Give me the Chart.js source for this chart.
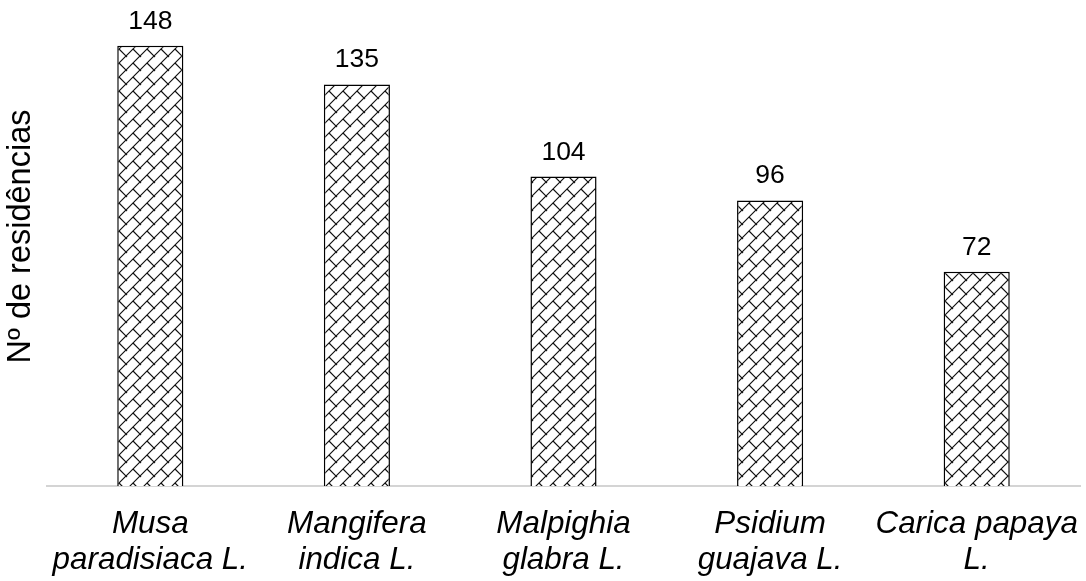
<!DOCTYPE html>
<html>
<head>
<meta charset="utf-8">
<script src="https://cdn.jsdelivr.net/npm/chart.js@4"></script>
<style>
html,body{margin:0;padding:0;background:#fff;}
#wrap{width:1086px;height:581px;}
</style>
</head>
<body>
<div id="wrap"><canvas id="c" width="1086" height="581"></canvas></div>
<script>
const categories = [
  ['Musa', 'paradisiaca L.'],
  ['Mangifera', 'indica L.'],
  ['Malpighia', 'glabra L.'],
  ['Psidium', 'guajava L.'],
  ['Carica papaya', 'L.']
];
const residencias = [148, 135, 104, 96, 72];
const yTitle = 'Nº de residências';
const FONT = '"Liberation Sans", Arial, sans-serif';

function brickPattern() {
  const T = 14;
  const c = document.createElement('canvas');
  c.width = T; c.height = T;
  const g = c.getContext('2d');
  g.fillStyle = '#fff';
  g.fillRect(0, 0, T, T);
  g.strokeStyle = '#111';
  g.lineWidth = 1.2;
  g.beginPath();
  g.moveTo(-1, T + 1); g.lineTo(T + 1, -1);
  g.moveTo(T / 2, T / 2); g.lineTo(T + 1, T + 1);
  g.moveTo(-T / 2, -T / 2); g.lineTo(1, 1);
  g.stroke();
  return g.createPattern(c, 'repeat');
}

const valueLabels = {
  id: 'valueLabels',
  afterDatasetsDraw(chart) {
    const ctx = chart.ctx;
    const meta = chart.getDatasetMeta(0);
    ctx.save();
    ctx.font = '26.5px ' + FONT;
    ctx.fillStyle = '#000';
    ctx.textAlign = 'center';
    ctx.textBaseline = 'alphabetic';
    meta.data.forEach((bar, i) => {
      ctx.fillText(String(chart.data.datasets[0].data[i]), bar.x, bar.y - 17);
    });
    ctx.restore();
  }
};

const yTitlePlugin = {
  id: 'yTitlePlugin',
  afterDraw(chart) {
    const ctx = chart.ctx;
    ctx.save();
    ctx.translate(21, 236.5);
    ctx.rotate(-Math.PI / 2);
    ctx.font = '32.5px ' + FONT;
    ctx.fillStyle = '#000';
    ctx.textAlign = 'center';
    ctx.textBaseline = 'middle';
    ctx.fillText(yTitle, 0, 0);
    ctx.restore();
  }
};

const ctx = document.getElementById('c').getContext('2d');
new Chart(ctx, {
  type: 'bar',
  data: {
    labels: categories,
    datasets: [{
      data: residencias,
      backgroundColor: brickPattern(),
      borderColor: '#000',
      borderWidth: 1.5,
      barPercentage: 0.32,
      categoryPercentage: 1.0
    }]
  },
  options: {
    responsive: false,
    animation: false,
    layout: { padding: { top: 10, right: 6, left: 47, bottom: -18 } },
    plugins: { legend: { display: false }, tooltip: { enabled: false } },
    scales: {
      x: {
        grid: { display: false, drawTicks: false },
        border: { display: true, color: '#d4d4d4', width: 2 },
        afterFit(scale) { scale.paddingLeft = 0; scale.paddingRight = 0; },
        ticks: {
          color: '#000',
          padding: 20,
          maxRotation: 0,
          autoSkip: false,
          font: { family: FONT, size: 31.4, style: 'italic', lineHeight: '36.5px' }
        }
      },
      y: {
        display: false,
        min: 0, max: 160
      }
    }
  },
  plugins: [valueLabels, yTitlePlugin]
});
</script>
</body>
</html>
